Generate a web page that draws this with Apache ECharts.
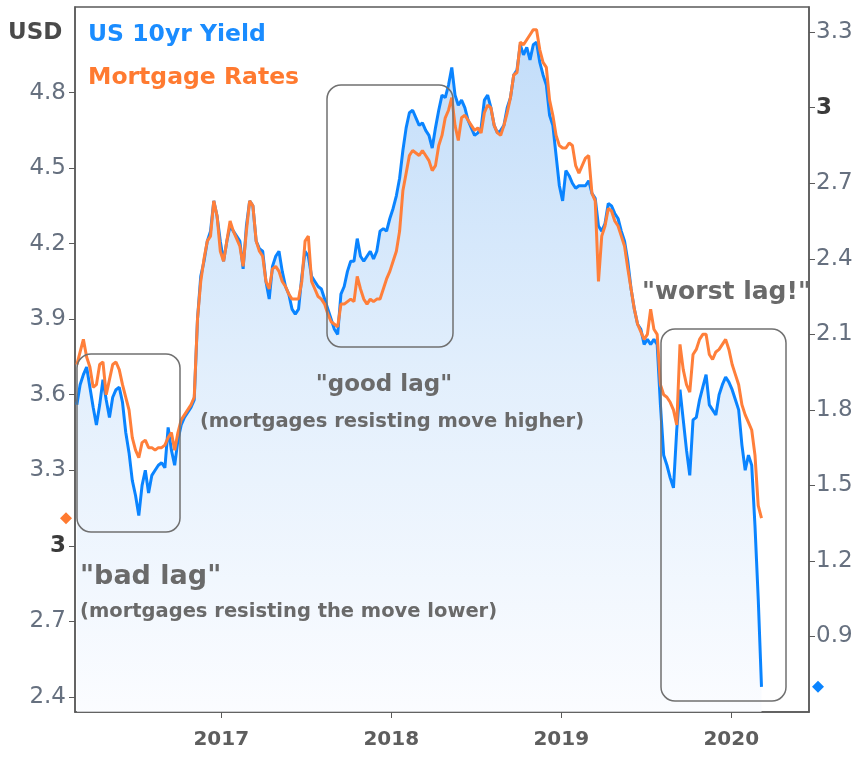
<!DOCTYPE html>
<html>
<head>
<meta charset="utf-8">
<script src="https://cdn.jsdelivr.net/npm/echarts@6/dist/echarts.min.js"></script>
<style>
  html, body { margin: 0; padding: 0; background: #fff; }
  #chart { width: 864px; height: 762px; }
</style>
</head>
<body>
<div id="chart"></div>
<script>
// weekly closes, starting Fri 2016-02-26
const startDate = [2016, 1, 26];

// US 10yr yield (right axis)
const yield10 = [
  1.82, 1.90, 1.94, 1.97, 1.89, 1.81, 1.74, 1.82, 1.92, 1.84,
  1.77, 1.85, 1.88, 1.89, 1.83, 1.71, 1.63, 1.52, 1.46, 1.38,
  1.50, 1.56, 1.47, 1.54, 1.56, 1.58, 1.59, 1.57, 1.73, 1.64,
  1.58, 1.68, 1.74, 1.77, 1.79, 1.81, 1.84, 2.16, 2.33, 2.39,
  2.47, 2.51, 2.63, 2.57, 2.47, 2.39, 2.47, 2.53, 2.51, 2.49,
  2.47, 2.36, 2.53, 2.63, 2.61, 2.47, 2.44, 2.43, 2.31, 2.24,
  2.37, 2.41, 2.43, 2.35, 2.29, 2.26, 2.20, 2.18, 2.20, 2.33,
  2.43, 2.41, 2.33, 2.31, 2.29, 2.28, 2.24, 2.20, 2.16, 2.12,
  2.10, 2.26, 2.29, 2.35, 2.39, 2.39, 2.48, 2.41, 2.39, 2.41,
  2.43, 2.40, 2.43, 2.51, 2.52, 2.51, 2.56, 2.60, 2.65, 2.72,
  2.83, 2.92, 2.98, 2.99, 2.96, 2.93, 2.94, 2.91, 2.89, 2.84,
  2.92, 2.99, 3.05, 3.04, 3.09, 3.16, 3.05, 3.01, 3.03, 3.00,
  2.95, 2.92, 2.89, 2.90, 2.92, 3.03, 3.05, 3.00, 2.93, 2.90,
  2.91, 2.93, 3.00, 3.04, 3.13, 3.15, 3.25, 3.21, 3.24, 3.19,
  3.25, 3.26, 3.18, 3.13, 3.09, 2.97, 2.93, 2.81, 2.69, 2.63,
  2.75, 2.73, 2.70, 2.68, 2.69, 2.69, 2.69, 2.71, 2.66, 2.64,
  2.53, 2.51, 2.54, 2.62, 2.61, 2.58, 2.56, 2.51, 2.47, 2.39,
  2.28, 2.20, 2.14, 2.12, 2.06, 2.08, 2.06, 2.08, 2.06, 1.82,
  1.62, 1.58, 1.53, 1.49, 1.72, 1.88, 1.76, 1.64, 1.54, 1.76,
  1.77, 1.84, 1.89, 1.94, 1.82, 1.80, 1.78, 1.86, 1.90, 1.93,
  1.91, 1.88, 1.84, 1.80, 1.66, 1.56, 1.62, 1.58, 1.34, 1.05, 0.70
];

// 30yr mortgage rates (left axis)
const mortgage = [
  3.72, 3.77, 3.82, 3.75, 3.71, 3.63, 3.64, 3.72, 3.73, 3.60,
  3.66, 3.72, 3.73, 3.70, 3.64, 3.59, 3.54, 3.43, 3.38, 3.35,
  3.41, 3.42, 3.39, 3.39, 3.38, 3.39, 3.39, 3.40, 3.43, 3.45,
  3.38, 3.45, 3.50, 3.52, 3.54, 3.56, 3.59, 3.90, 4.05, 4.14,
  4.21, 4.23, 4.37, 4.31, 4.17, 4.13, 4.21, 4.29, 4.25, 4.22,
  4.19, 4.11, 4.25, 4.37, 4.35, 4.21, 4.17, 4.15, 4.05, 4.02,
  4.10, 4.11, 4.09, 4.05, 4.03, 4.00, 3.98, 3.98, 3.98, 4.05,
  4.21, 4.23, 4.05, 4.02, 3.99, 3.98, 3.96, 3.92, 3.89, 3.88,
  3.87, 3.96, 3.96, 3.97, 3.98, 3.97, 4.07, 4.02, 3.98, 3.96,
  3.98, 3.97, 3.98, 3.98, 4.02, 4.06, 4.09, 4.13, 4.17, 4.25,
  4.41, 4.48, 4.55, 4.57, 4.56, 4.55, 4.57, 4.55, 4.53, 4.49,
  4.51, 4.59, 4.63, 4.70, 4.73, 4.78, 4.67, 4.61, 4.70, 4.71,
  4.69, 4.67, 4.65, 4.66, 4.64, 4.72, 4.75, 4.74, 4.67, 4.64,
  4.63, 4.67, 4.72, 4.78, 4.87, 4.88, 5.00, 4.99, 5.01, 5.03,
  5.05, 5.05, 4.97, 4.92, 4.90, 4.77, 4.71, 4.63, 4.59, 4.58,
  4.58, 4.60, 4.59, 4.51, 4.48, 4.51, 4.54, 4.55, 4.40, 4.37,
  4.05, 4.23, 4.27, 4.34, 4.33, 4.29, 4.27, 4.23, 4.19, 4.10,
  4.02, 3.94, 3.88, 3.85, 3.82, 3.84, 3.94, 3.86, 3.84, 3.64,
  3.60, 3.59, 3.57, 3.54, 3.48, 3.80, 3.70, 3.64, 3.61, 3.76,
  3.78, 3.82, 3.84, 3.84, 3.76, 3.74, 3.77, 3.78, 3.80, 3.82,
  3.78, 3.72, 3.68, 3.64, 3.56, 3.52, 3.49, 3.46, 3.36, 3.16, 3.11
];

const leftTicks = [2.4, 2.7, 3, 3.3, 3.6, 3.9, 4.2, 4.5, 4.8];
const rightTicks = [0.9, 1.2, 1.5, 1.8, 2.1, 2.4, 2.7, 3, 3.3];
const yearTicks = [2017, 2018, 2019, 2020];

const dates = yield10.map((_, i) => +new Date(startDate[0], startDate[1], startDate[2] + 7 * i));
const blueData = yield10.map((v, i) => [dates[i], v]);
const orangeData = mortgage.map((v, i) => [dates[i], v]);
const yearStamps = yearTicks.map(y => +new Date(y, 0, 1));

const BLUE = '#0a84ff';
const ORANGE = '#ff7f3a';
const AXIS = '#5a5a5a';
const FONT = 'DejaVu Sans';

let mychart = echarts.init(document.getElementById('chart'));

function tickLabel(v) {
  return v === 3 ? '{b|3}' : String(v);
}

let option = {
  animation: false,
  backgroundColor: '#fff',
  grid: {
    left: 75, right: 55, top: 7, bottom: 50,
    show: true, borderColor: AXIS, borderWidth: 1.5
  },
  xAxis: {
    // timestamps on a plain value axis, labelled by year
    type: 'value',
    min: +new Date(2016, 1, 22),
    max: +new Date(2020, 5, 16),
    axisLine: { show: true, lineStyle: { color: AXIS, width: 1.5 } },
    axisTick: { show: true, length: 6, lineStyle: { color: AXIS }, customValues: yearStamps },
    axisLabel: {
      customValues: yearStamps,
      formatter: v => String(new Date(v).getFullYear()),
      color: '#5e5e5e', fontFamily: FONT, fontWeight: 'bold', fontSize: 20, margin: 18
    },
    splitLine: { show: false }
  },
  yAxis: [
    {
      type: 'value', position: 'left', min: 2.34, max: 5.14,
      axisLine: { show: true, lineStyle: { color: AXIS, width: 1.5 } },
      axisTick: { show: true, length: 6, lineStyle: { color: AXIS }, customValues: leftTicks },
      axisLabel: {
        customValues: leftTicks, formatter: tickLabel, margin: 9,
        color: '#66707f', fontFamily: FONT, fontSize: 23,
        rich: { b: { fontWeight: 'bold', color: '#3a3a3a', fontFamily: FONT, fontSize: 23 } }
      },
      splitLine: { show: false }
    },
    {
      type: 'value', position: 'right', min: 0.60, max: 3.40,
      axisLine: { show: true, lineStyle: { color: AXIS, width: 1.5 } },
      axisTick: { show: true, length: 6, lineStyle: { color: AXIS }, customValues: rightTicks },
      axisLabel: {
        customValues: rightTicks, formatter: tickLabel, margin: 7,
        color: '#66707f', fontFamily: FONT, fontSize: 23,
        rich: { b: { fontWeight: 'bold', color: '#3a3a3a', fontFamily: FONT, fontSize: 23 } }
      },
      splitLine: { show: false }
    }
  ],
  series: [
    {
      name: 'US 10yr Yield', type: 'line', yAxisIndex: 1,
      data: blueData, showSymbol: false,
      lineStyle: { color: BLUE, width: 3 },
      areaStyle: {
        color: new echarts.graphic.LinearGradient(0, 0, 0, 1, [
          { offset: 0, color: '#a9cff7' },
          { offset: 0.5, color: '#d6e8fb' },
          { offset: 1, color: '#f9fbff' }
        ])
      },
      z: 2
    },
    {
      name: 'Mortgage Rates', type: 'line', yAxisIndex: 0,
      data: orangeData, showSymbol: false,
      lineStyle: { color: ORANGE, width: 3 },
      z: 3
    }
  ]
};
mychart.setOption(option);

// last value markers on the axes
const yOrange = mychart.convertToPixel({ yAxisIndex: 0 }, mortgage[mortgage.length - 1]);
const yBlue = mychart.convertToPixel({ yAxisIndex: 1 }, yield10[yield10.length - 1]);

function diamond(cx, cy, color) {
  return {
    type: 'polygon', z: 100,
    shape: { points: [[cx, cy - 6], [cx + 6, cy], [cx, cy + 6], [cx - 6, cy]] },
    style: { fill: color }
  };
}
function box(x, y, w, h) {
  return {
    type: 'rect', z: 100,
    shape: { x: x, y: y, width: w, height: h, r: 14 },
    style: { fill: null, stroke: '#707070', lineWidth: 1.5 }
  };
}
function note(text, x, y, size, align) {
  return {
    type: 'text', z: 100, x: x, y: y,
    style: {
      text: text, fill: '#6a6a6a', font: 'bold ' + size + 'px "' + FONT + '"',
      textAlign: align || 'left', textVerticalAlign: 'middle'
    }
  };
}

mychart.setOption({
  graphic: [
    { type: 'text', z: 100, x: 8, y: 33, style: { text: 'USD', fill: '#4a4a4a', font: 'bold 23px "' + FONT + '"', textVerticalAlign: 'middle' } },
    { type: 'text', z: 100, x: 88, y: 35, style: { text: 'US 10yr Yield', fill: '#1a8cff', font: 'bold 23.5px "' + FONT + '"', textVerticalAlign: 'middle' } },
    { type: 'text', z: 100, x: 88, y: 78, style: { text: 'Mortgage Rates', fill: '#ff7a30', font: 'bold 23.5px "' + FONT + '"', textVerticalAlign: 'middle' } },
    box(77, 354, 103, 178),
    box(327, 85, 126, 262),
    box(661, 329, 125, 372),
    note('"good lag"', 384, 385, 23, 'center'),
    note('(mortgages resisting move higher)', 392, 422, 19.5, 'center'),
    note('"bad lag"', 80, 577, 27),
    note('(mortgages resisting the move lower)', 80, 612, 19.5),
    note('"worst lag!"', 642, 292, 25),
    diamond(66, yOrange, '#ff7a30'),
    diamond(818, yBlue, BLUE)
  ]
});
</script>
</body>
</html>
